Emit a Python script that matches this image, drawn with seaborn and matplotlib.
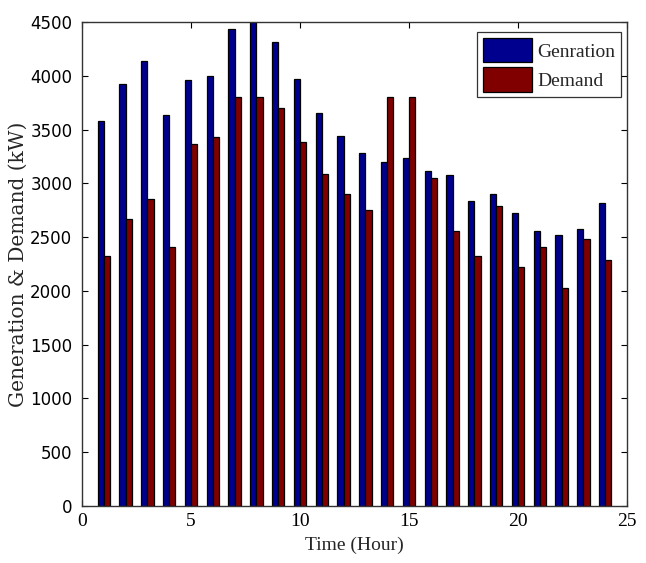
import matplotlib
matplotlib.use("Agg")
import matplotlib.pyplot as plt
import seaborn as sns
import pandas as pd

hours = list(range(1, 25))
generation = [3578, 3919, 4136, 3634, 3959, 3999, 4433, 4500, 4312, 3971, 3658, 3442,
              3278, 3197, 3237, 3116, 3076, 2832, 2900, 2720, 2559, 2519, 2571, 2819]
demand = [2326, 2667, 2856, 2407, 3361, 3432, 3807, 3807, 3702, 3386, 3088, 2897,
          2748, 3807, 3807, 3045, 2559, 2326, 2788, 2218, 2410, 2026, 2478, 2283]
series_names = ["Genration", "Demand"]
xticks = [0, 5, 10, 15, 20, 25]
yticks = list(range(0, 4501, 500))

df = pd.DataFrame({
    "hour": hours * 2,
    "value": generation + demand,
    "series": [series_names[0]] * 24 + [series_names[1]] * 24,
})

sns.set_theme(style="white")
plt.rcParams["font.family"] = ["Liberation Serif", "DejaVu Serif"]

fig = plt.figure(figsize=(6.46, 5.63), dpi=100)
ax = fig.add_axes([0.127, 0.1012, 0.8436, 0.8598])

sns.barplot(data=df, x="hour", y="value", hue="series", native_scale=True,
            palette=["#00008F", "#800000"], width=0.57, edgecolor="black",
            linewidth=0.9, ax=ax, saturation=1, errorbar=None)

ax.set_xlim(0, 25)
ax.set_ylim(0, 4500)
ax.set_xticks(xticks)
ax.set_xticklabels([str(t) for t in xticks], fontsize=14, family="Liberation Serif")
ax.set_yticks(yticks)
ax.set_yticklabels([str(t) for t in yticks], fontsize=12, family="DejaVu Sans",
                   color="#222222")
ax.tick_params(direction="in", length=4, width=0.8, top=True, right=True,
               bottom=True, left=True, colors="black")
ax.tick_params(axis="x", pad=5)
ax.tick_params(axis="y", pad=7)
for s in ax.spines.values():
    s.set_color("#333333")
    s.set_linewidth(1.0)
    s.set_visible(True)

ax.set_xlabel("Time (Hour)", fontsize=14, family="Liberation Serif", labelpad=5)
ax.set_ylabel("Generation & Demand (kW)", fontsize=14.5, family="DejaVu Serif",
              labelpad=2)

leg = ax.legend(loc="upper right", bbox_to_anchor=(0.9895, 0.979), frameon=True,
                fancybox=False, edgecolor="black", handlelength=2.5, handleheight=1.55,
                borderaxespad=0.0, handletextpad=0.3, borderpad=0.3, labelspacing=0.25,
                prop={"family": "Liberation Serif", "size": 14})
leg.get_frame().set_linewidth(0.9)

fig.savefig("out.png", dpi=100)
